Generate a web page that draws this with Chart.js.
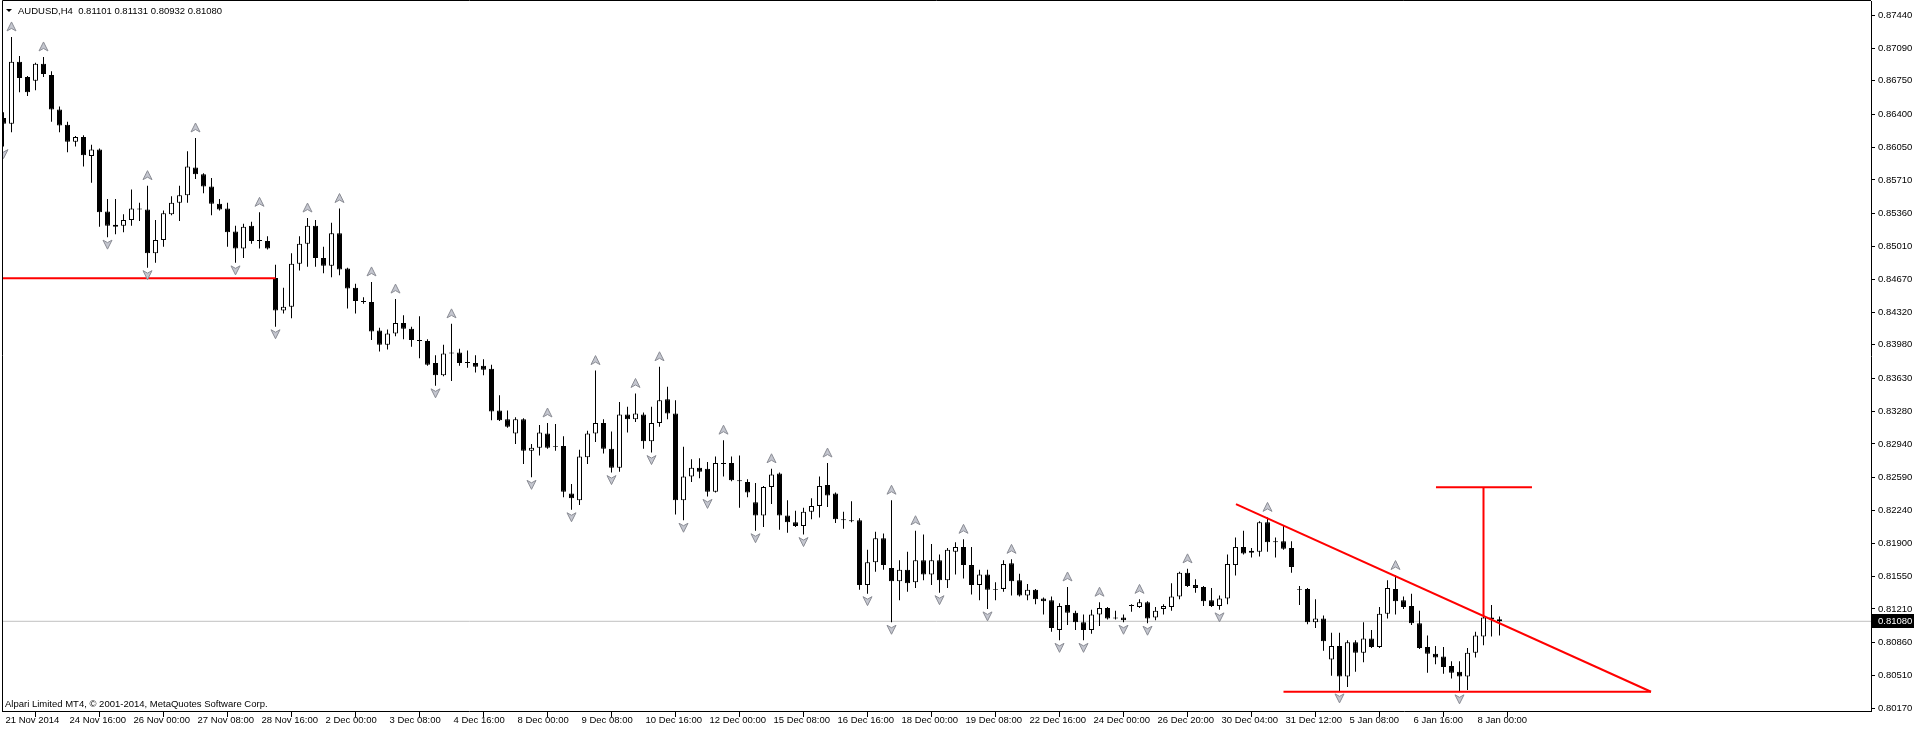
<!DOCTYPE html>
<html>
<head>
<meta charset="utf-8">
<script src="https://cdn.jsdelivr.net/npm/chart.js@4.4.1/dist/chart.umd.min.js"></script>
<style>
  html, body { margin: 0; padding: 0; background: #fff; }
  #wrap { width: 1916px; height: 729px; }
</style>
</head>
<body>
<div id="wrap"><canvas id="chart" width="1916" height="729"></canvas></div>
<script>
// AUDUSD H4 candles, one entry per bar (21 Nov 2014 08:00 -> 8 Jan 2015 08:00)
const opens = [
  0.8636,0.8630,0.8695,0.8679,0.8675,0.8693,0.8681,0.8645,0.8629,0.8611,
  0.8616,0.8596,0.8603,0.8538,0.8524,0.8523,0.8529,0.8541,0.8540,0.8494,
  0.8508,0.8535,0.8547,0.8555,0.8584,0.8577,0.8564,0.8546,0.8541,0.8517,
  0.8499,0.8523,0.8508,0.8507,0.8468,0.8434,0.8438,0.8483,0.8504,0.8523,
  0.8489,0.8481,0.8515,0.8478,0.8458,0.8444,0.8443,0.8413,0.8398,0.8410,
  0.8421,0.8415,0.8403,0.8402,0.8379,0.8366,0.8390,0.8390,0.8380,0.8379,
  0.8376,0.8373,0.8329,0.8320,0.8305,0.8320,0.8287,0.8290,0.8305,0.8292,
  0.8292,0.8242,0.8235,0.8280,0.8305,0.8316,0.8289,0.8269,0.8325,0.8320,
  0.8325,0.8297,0.8316,0.8341,0.8326,0.8235,0.8260,0.8269,0.8268,0.8244,
  0.8274,0.8274,0.8256,0.8254,0.8233,0.8219,0.8249,0.8263,0.8219,0.8212,
  0.8208,0.8223,0.8229,0.8251,0.8242,0.8215,0.8214,0.8214,0.8146,0.8170,
  0.8195,0.8164,0.8150,0.8162,0.8149,0.8172,0.8157,0.8172,0.8151,0.8181,
  0.8186,0.8167,0.8146,0.8157,0.8141,0.8142,0.8169,0.8151,0.8135,0.8141,
  0.8132,0.8130,0.8099,0.8125,0.8117,0.8107,0.8099,0.8115,0.8122,0.8112,
  0.8112,0.8124,0.8123,0.8128,0.8112,0.8121,0.8123,0.8134,0.8159,0.8146,
  0.8144,0.8130,0.8124,0.8132,0.8167,0.8186,0.8180,0.8181,0.8212,0.8192,
  0.8192,0.8185,0.8142,0.8142,0.8107,0.8111,0.8068,0.8082,0.8050,0.8086,
  0.8075,0.8090,0.8081,0.8116,0.8142,0.8130,0.8124,0.8106,0.8081,0.8074,
  0.8071,0.8061,0.8055,0.8050,0.8075,0.8092,0.8112,0.81101
];
const highs = [
  0.8642,0.8721,0.8701,0.8680,0.8694,0.8700,0.8685,0.8648,0.8632,0.8617,
  0.8618,0.8608,0.8604,0.8551,0.8551,0.8535,0.8561,0.8547,0.8565,0.8529,
  0.8539,0.8554,0.8565,0.8601,0.8615,0.8578,0.8573,0.8551,0.8547,0.8523,
  0.8525,0.8527,0.8537,0.8512,0.8482,0.8458,0.8494,0.8512,0.8531,0.8529,
  0.8501,0.8526,0.8541,0.8479,0.8462,0.8448,0.8464,0.8416,0.8414,0.8446,
  0.8429,0.8417,0.8428,0.8404,0.8387,0.8398,0.8420,0.8394,0.8392,0.8387,
  0.8383,0.8377,0.8345,0.8329,0.8322,0.8321,0.8294,0.8314,0.8316,0.8315,
  0.8302,0.8252,0.8288,0.8308,0.8371,0.8320,0.8307,0.8338,0.8333,0.8347,
  0.8327,0.8333,0.8375,0.8354,0.8340,0.8291,0.8278,0.8279,0.8275,0.8281,
  0.8298,0.8281,0.8282,0.8257,0.8253,0.8250,0.8268,0.8264,0.8235,0.8224,
  0.8227,0.8237,0.8260,0.8274,0.8243,0.8223,0.8234,0.8216,0.8183,0.8202,
  0.8200,0.8235,0.8172,0.8181,0.8203,0.8199,0.8189,0.8178,0.8185,0.8191,
  0.8194,0.8186,0.8162,0.8162,0.8149,0.8172,0.8173,0.8158,0.8147,0.8142,
  0.8133,0.8134,0.8127,0.8144,0.8119,0.8115,0.8120,0.8128,0.8123,0.8119,
  0.8115,0.8126,0.8131,0.8129,0.8123,0.8126,0.8148,0.8160,0.8163,0.8152,
  0.8145,0.8143,0.8135,0.8178,0.8196,0.8203,0.8185,0.8213,0.8217,0.8196,
  0.8209,0.8192,0.8145,0.8143,0.8131,0.8114,0.8096,0.8096,0.8088,0.8088,
  0.8107,0.8099,0.8123,0.8151,0.8156,0.8134,0.8137,0.8119,0.8093,0.8082,
  0.8081,0.8066,0.8066,0.8080,0.8097,0.8113,0.8125,0.81131
];
const lows = [
  0.8606,0.8621,0.8663,0.8659,0.8665,0.8679,0.8632,0.8621,0.8600,0.8606,
  0.8585,0.8568,0.8522,0.8511,0.8514,0.8516,0.8523,0.8528,0.8479,0.8484,
  0.8501,0.8534,0.8528,0.8547,0.8572,0.8557,0.8534,0.8539,0.8501,0.8484,
  0.8489,0.8504,0.8499,0.8498,0.8417,0.8431,0.8426,0.8476,0.8480,0.8480,
  0.8473,0.8469,0.8471,0.8436,0.8431,0.8441,0.8403,0.8391,0.8393,0.8407,
  0.8404,0.8396,0.8384,0.8376,0.8355,0.8365,0.8360,0.8376,0.8374,0.8369,
  0.8366,0.8319,0.8318,0.8311,0.8294,0.8273,0.8259,0.8282,0.8289,0.8287,
  0.8238,0.8225,0.8230,0.8273,0.8296,0.8284,0.8264,0.8265,0.8306,0.8317,
  0.8289,0.8285,0.8312,0.8320,0.8220,0.8214,0.8254,0.8258,0.8239,0.8243,
  0.8260,0.8255,0.8227,0.8238,0.8203,0.8207,0.8231,0.8204,0.8201,0.8207,
  0.8199,0.8215,0.8217,0.8228,0.8211,0.8205,0.8212,0.8141,0.8137,0.8160,
  0.8162,0.8107,0.8130,0.8139,0.8143,0.8151,0.8146,0.8138,0.8143,0.8157,
  0.8153,0.8136,0.8130,0.8121,0.8130,0.8139,0.8135,0.8134,0.8130,0.8126,
  0.8115,0.8097,0.8088,0.8104,0.8099,0.8088,0.8095,0.8103,0.8110,0.8110,
  0.8107,0.8118,0.8122,0.8106,0.8109,0.8115,0.8119,0.8131,0.8144,0.8138,
  0.8124,0.8123,0.8120,0.8126,0.8156,0.8178,0.8175,0.8176,0.8181,0.8175,
  0.8183,0.8159,0.8125,0.8105,0.8101,0.8077,0.8051,0.8035,0.8039,0.8055,
  0.8065,0.8080,0.8080,0.8111,0.8115,0.8121,0.8104,0.8079,0.8054,0.8063,
  0.8053,0.8048,0.8034,0.8036,0.8070,0.8083,0.8092,0.80932
];
const closes = [
  0.8630,0.8695,0.8678,0.8663,0.8693,0.8682,0.8645,0.8628,0.8611,0.8616,
  0.8597,0.8603,0.8537,0.8523,0.8522,0.8529,0.8541,0.8540,0.8494,0.8508,
  0.8536,0.8547,0.8555,0.8585,0.8577,0.8564,0.8546,0.8540,0.8516,0.8499,
  0.8522,0.8507,0.8507,0.8499,0.8434,0.8438,0.8483,0.8504,0.8523,0.8489,
  0.8481,0.8515,0.8477,0.8457,0.8444,0.8443,0.8412,0.8398,0.8410,0.8421,
  0.8415,0.8403,0.8402,0.8377,0.8366,0.8389,0.8389,0.8379,0.8379,0.8375,
  0.8372,0.8328,0.8319,0.8312,0.8320,0.8287,0.8290,0.8306,0.8290,0.8291,
  0.8244,0.8237,0.8281,0.8305,0.8316,0.8289,0.8269,0.8325,0.8320,0.8326,
  0.8297,0.8316,0.8340,0.8326,0.8235,0.8260,0.8269,0.8265,0.8244,0.8274,
  0.8273,0.8256,0.8255,0.8243,0.8219,0.8249,0.8262,0.8219,0.8212,0.8208,
  0.8223,0.8229,0.8250,0.8240,0.8215,0.8214,0.8213,0.8146,0.8170,0.8195,
  0.8167,0.8150,0.8162,0.8148,0.8172,0.8157,0.8172,0.8151,0.8183,0.8186,
  0.8167,0.8146,0.8157,0.8141,0.8142,0.8168,0.8150,0.8135,0.8141,0.8131,
  0.8129,0.8101,0.8124,0.8117,0.8107,0.8099,0.8115,0.8122,0.8111,0.8111,
  0.8109,0.8125,0.8128,0.8111,0.8119,0.8124,0.8134,0.8159,0.8145,0.8143,
  0.8129,0.8124,0.8132,0.8168,0.8186,0.8179,0.8182,0.8212,0.8191,0.8191,
  0.8184,0.8165,0.8141,0.8107,0.8111,0.8087,0.8082,0.8050,0.8086,0.8075,
  0.8090,0.8081,0.8116,0.8143,0.8129,0.8123,0.8106,0.8080,0.8074,0.8070,
  0.8060,0.8054,0.8050,0.8075,0.8093,0.8112,0.8110,0.81080
];

// fractal markers (bar indexes)
const fractalUp = [1, 5, 18, 24, 32, 38, 42, 46, 49, 56, 68, 74, 79, 82, 90, 96, 103, 111, 114, 120, 126, 133, 137, 142, 148, 158, 174];
const fractalDown = [0, 13, 18, 29, 34, 54, 66, 71, 76, 81, 85, 88, 94, 100, 108, 111, 117, 123, 132, 135, 140, 143, 152, 167, 182];

// time axis: one label every 8 bars
const timeLabels = ['21 Nov 2014', '24 Nov 16:00', '26 Nov 00:00', '27 Nov 08:00', '28 Nov 16:00', '2 Dec 00:00',
  '3 Dec 08:00', '4 Dec 16:00', '8 Dec 00:00', '9 Dec 08:00', '10 Dec 16:00', '12 Dec 00:00', '15 Dec 08:00',
  '16 Dec 16:00', '18 Dec 00:00', '19 Dec 08:00', '22 Dec 16:00', '24 Dec 00:00', '26 Dec 20:00', '30 Dec 04:00',
  '31 Dec 12:00', '5 Jan 08:00', '6 Jan 16:00', '8 Jan 00:00'];
const priceTicks = [0.87440, 0.87090, 0.86750, 0.86400, 0.86050, 0.85710, 0.85360, 0.85010, 0.84670, 0.84320,
  0.83980, 0.83630, 0.83280, 0.82940, 0.82590, 0.82240, 0.81900, 0.81550, 0.81210, 0.80860, 0.80510, 0.80170];

// hand drawn objects: [bar, price]
const levelLine = [[-5, 0.84678], [34, 0.84678]];
const fallingLine = [[154.06, 0.8231], [205.94, 0.80341]];
const baseLine = [[160, 0.80341], [205.94, 0.80341]];
const targetStem = [[185, 0.82486], [185, 0.81136]];
const targetCap = [[179.06, 0.82486], [191.06, 0.82486]];

const X_MIN = -0.1875, X_MAX = 233.4375;
const Y_MIN = 0.80139, Y_MAX = 0.87587;

const lastClose = closes[closes.length - 1];
const font = { family: 'Liberation Sans', size: 9.5 };

const bodies = opens.map((o, i) => ({ x: i, y: [Math.min(o, closes[i]), Math.max(o, closes[i])] }));
const wicks = highs.map((h, i) => ({ x: i, y: [lows[i], h] }));
const bodyFill = opens.map((o, i) => closes[i] > o ? '#ffffff' : '#000000');
const pts = arr => arr.map(([x, y]) => ({ x, y }));

function redLine(arr) {
  return { type: 'line', data: pts(arr), borderColor: '#ff0000', borderWidth: 2, pointRadius: 0, order: 0 };
}

function drawArrow(ctx, cx, cy, up) {
  const s = up ? 1 : -1;
  ctx.beginPath();
  ctx.moveTo(cx, cy - 5 * s);
  ctx.lineTo(cx + 4.5, cy + 4 * s);
  ctx.lineTo(cx, cy + 1.5 * s);
  ctx.lineTo(cx - 4.5, cy + 4 * s);
  ctx.closePath();
  ctx.fillStyle = '#c4c6cf';
  ctx.fill();
  ctx.lineWidth = 1;
  ctx.strokeStyle = '#8a8c94';
  ctx.stroke();
}

const mt4Plugin = {
  id: 'mt4',
  afterDatasetsDraw(chart) {
    const { ctx, chartArea: a, scales: { x, y } } = chart;
    ctx.save();
    ctx.beginPath();
    ctx.rect(a.left, a.top, a.right - a.left, a.bottom - a.top);
    ctx.clip();
    fractalUp.forEach(i => drawArrow(ctx, x.getPixelForValue(i), y.getPixelForValue(highs[i]) - 10, true));
    fractalDown.forEach(i => drawArrow(ctx, x.getPixelForValue(i), y.getPixelForValue(lows[i]) + 7, false));
    ctx.restore();
  },
  afterDraw(chart) {
    const { ctx, chartArea: a, scales: { y } } = chart;
    ctx.save();
    // frame left/top
    ctx.strokeStyle = '#000';
    ctx.lineWidth = 1;
    ctx.beginPath();
    ctx.moveTo(a.left + 0.5, a.bottom);
    ctx.lineTo(a.left + 0.5, a.top - 0.5);
    ctx.lineTo(a.right, a.top - 0.5);
    ctx.stroke();

    // header
    ctx.fillStyle = '#000';
    ctx.beginPath();
    ctx.moveTo(6, 9); ctx.lineTo(12, 9); ctx.lineTo(9, 12); ctx.closePath();
    ctx.fill();
    ctx.font = '9.5px "Liberation Sans"';
    ctx.textBaseline = 'middle';
    ctx.textAlign = 'left';
    ctx.fillText('AUDUSD,H4  ' + [opens, highs, lows, closes].map(s => s[s.length - 1].toFixed(5)).join(' '), 18, 11);
    ctx.fillText('Alpari Limited MT4, \u00A9 2001-2014, MetaQuotes Software Corp.', 5, 704);

    // current price marker
    const py = Math.round(y.getPixelForValue(lastClose));
    ctx.fillStyle = '#000';
    ctx.fillRect(a.right + 1, py - 7, 42, 14);
    ctx.fillStyle = '#fff';
    ctx.fillText(lastClose.toFixed(5), a.right + 7, py);
    ctx.restore();
  }
};

new Chart(document.getElementById('chart'), {
  type: 'bar',
  data: {
    datasets: [
      {
        type: 'line', data: pts([[X_MIN, lastClose], [X_MAX, lastClose]]),
        borderColor: '#c0c0c0', borderWidth: 1, pointRadius: 0, order: 4
      },
      {
        data: wicks, backgroundColor: '#000', borderWidth: 0,
        barThickness: 1, grouped: false, inflateAmount: 0, order: 3
      },
      {
        data: bodies, backgroundColor: bodyFill, borderColor: '#000', borderWidth: 1,
        borderSkipped: false, barThickness: 5, grouped: false, inflateAmount: 0, order: 2
      },
      redLine(levelLine),
      redLine(fallingLine),
      redLine(baseLine),
      redLine(targetStem),
      redLine(targetCap)
    ]
  },
  options: {
    responsive: false,
    animation: false,
    devicePixelRatio: 1,
    events: [],
    layout: { padding: { left: 2, top: 1, right: 0, bottom: 0 } },
    plugins: { legend: { display: false }, tooltip: { enabled: false } },
    scales: {
      x: {
        type: 'linear', min: X_MIN, max: X_MAX, offset: false,
        afterBuildTicks: s => { s.ticks = timeLabels.map((_, k) => ({ value: k * 8 })); },
        afterFit: s => { s.height = 18; s.paddingLeft = 0; s.paddingRight = 0; },
        ticks: {
          autoSkip: false, maxRotation: 0, minRotation: 0, align: 'start', labelOffset: 2,
          padding: -2, color: '#000', font,
          callback: (v, i) => timeLabels[i]
        },
        grid: { drawOnChartArea: false, drawTicks: true, tickLength: 6, tickColor: '#000' },
        border: { display: true, color: '#000' }
      },
      y: {
        position: 'right', min: Y_MIN, max: Y_MAX, beginAtZero: false,
        afterBuildTicks: s => { s.ticks = priceTicks.map(v => ({ value: v })); },
        afterFit: s => { s.width = 45; s.paddingTop = 0; s.paddingBottom = 0; },
        ticks: { autoSkip: false, padding: 3, color: '#000', font, callback: v => v.toFixed(5) },
        grid: { drawOnChartArea: false, drawTicks: true, tickLength: 4, tickColor: '#000' },
        border: { display: true, color: '#000' }
      }
    }
  },
  plugins: [mt4Plugin]
});
</script>
</body>
</html>
